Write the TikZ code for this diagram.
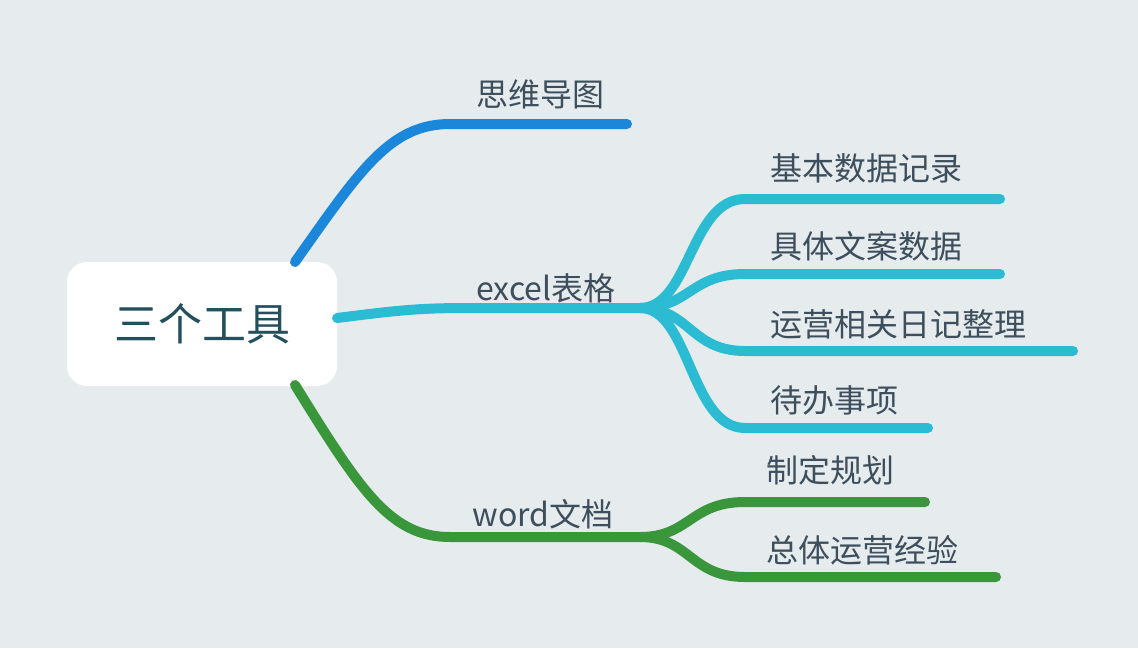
\documentclass[tikz,border=0pt]{standalone}
\usepackage{fontspec}
\setmainfont{Noto Sans CJK SC}
\definecolor{bgcol}{HTML}{E6EBEE}
\definecolor{txtcol}{HTML}{3D4F5C}
\definecolor{rootcol}{HTML}{24505E}
\definecolor{bluecol}{HTML}{1A87DB}
\definecolor{cyancol}{HTML}{2BBCD4}
\definecolor{greencol}{HTML}{3A963A}
\tikzset{
  branch/.style={line width=5pt,line cap=round},
  lbl/.style={text=txtcol,font=\fontsize{16}{18}\selectfont,inner sep=0pt},
  sub/.style={lbl,anchor=west}
}
\begin{document}
\begin{tikzpicture}[x=0.5pt,y=-0.5pt]
  \fill[bgcol] (0,0) rectangle (1138,648);
  \useasboundingbox (0,0) rectangle (1138,648);

  \node[fill=white,rounded corners=10pt,minimum width=135pt,minimum height=62pt,
        text=rootcol,font=\fontsize{22}{24}\selectfont] (root) at (202,324) {三个工具};

  \coordinate (b0) at (295,262);
  \coordinate (c0) at (337,318);
  \coordinate (g0) at (295,385);
  \coordinate (mind) at (627,124);
  \coordinate (xls) at (640,308);
  \coordinate (doc) at (640,537);

  \node[lbl] (t1) at (540,94) {思维导图};
  \node[lbl] (t2) at (546,288) {excel表格};
  \node[lbl] (t3) at (543,514) {word文档};

  \node[sub] (s1) at (770,168) {基本数据记录};
  \node[sub] (s2) at (770,246) {具体文案数据};
  \node[sub] (s3) at (770,324) {运营相关日记整理};
  \node[sub] (s4) at (770,400) {待办事项};
  \node[sub] (s5) at (766,470) {制定规划};
  \node[sub] (s6) at (766,550) {总体运营经验};

  \coordinate (e1) at (1000,199);
  \coordinate (e2) at (1000,274);
  \coordinate (e3) at (1073,351);
  \coordinate (e4) at (928,428);
  \coordinate (e5) at (925,502);
  \coordinate (e6) at (996,577);

  \draw[branch,bluecol] (b0) .. controls (360,170) and (390,124) .. (450,124) -- (mind);
  \draw[branch,cyancol] (c0) .. controls (400,310) and (420,308) .. (470,308) -- (xls);
  \draw[branch,greencol] (g0) .. controls (360,490) and (390,537) .. (450,537) -- (doc);

  \draw[branch,cyancol] (xls) .. controls (690,308) and (690,199) .. (745,199) -- (e1);
  \draw[branch,cyancol] (xls) .. controls (690,308) and (690,274) .. (745,274) -- (e2);
  \draw[branch,cyancol] (xls) .. controls (690,308) and (690,351) .. (745,351) -- (e3);
  \draw[branch,cyancol] (xls) .. controls (690,308) and (690,428) .. (745,428) -- (e4);
  \draw[branch,greencol] (doc) .. controls (690,537) and (690,502) .. (745,502) -- (e5);
  \draw[branch,greencol] (doc) .. controls (690,537) and (690,577) .. (745,577) -- (e6);
\end{tikzpicture}
\end{document}
